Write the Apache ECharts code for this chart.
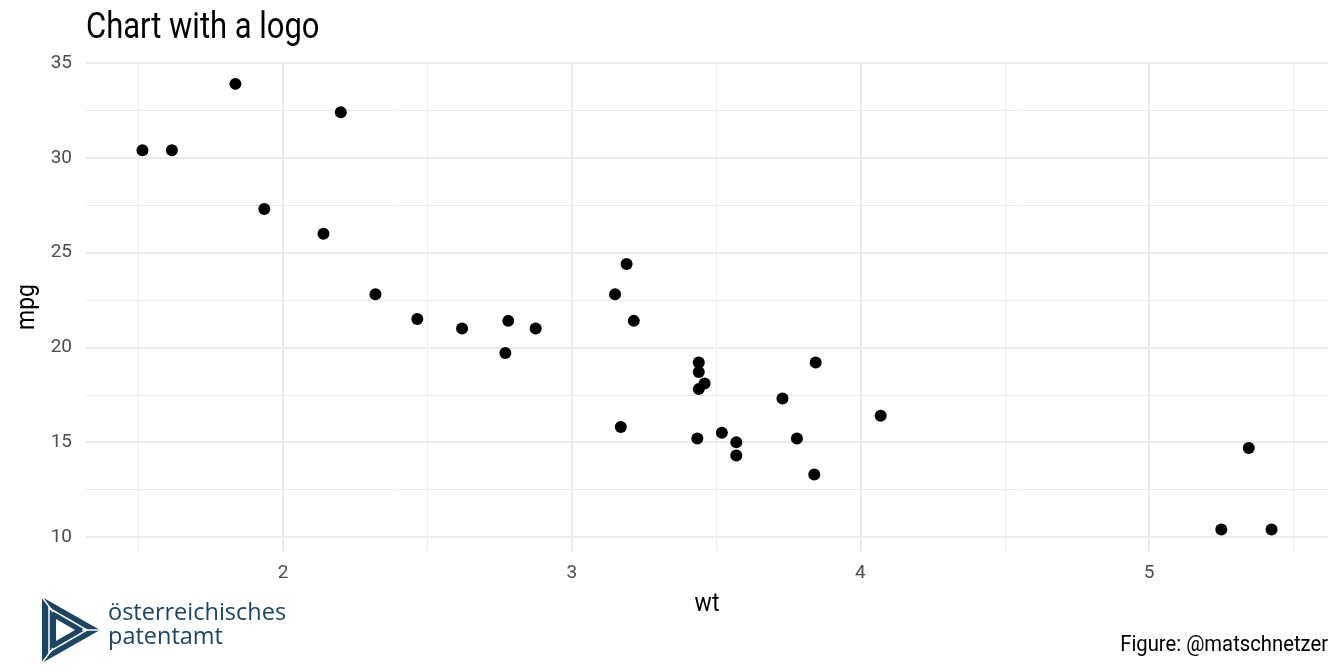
<!DOCTYPE html>
<html><head><meta charset="utf-8">
<script src="https://cdn.jsdelivr.net/npm/echarts@6/dist/echarts.min.js"></script>
<style>html,body{margin:0;padding:0;background:#fff}#c{width:1344px;height:672px}</style>
</head><body><div id="c"></div>
<script>
// mtcars: weight (1000 lbs) and miles per gallon
const wt  = [2.620,2.875,2.320,3.215,3.440,3.460,3.570,3.190,3.150,3.440,3.440,4.070,3.730,3.780,5.250,5.424,5.345,2.200,1.615,1.835,2.465,3.520,3.435,3.840,3.845,1.935,2.140,1.513,3.170,2.770,3.570,2.780];
const mpg = [21.0,21.0,22.8,21.4,18.7,18.1,14.3,24.4,22.8,19.2,17.8,16.4,17.3,15.2,10.4,10.4,14.7,32.4,30.4,33.9,21.5,15.5,15.2,13.3,19.2,27.3,26.0,30.4,15.8,19.7,15.0,21.4];
const xMajor = [2,3,4,5];
const xMinor = [1.5,2.5,3.5,4.5,5.5];
const yMajor = [10,15,20,25,30,35];
const yMinor = [12.5,17.5,22.5,27.5,32.5];
const titleText = 'Chart with a logo';
const captionText = 'Figure: @matschnetzer';
const xTitle = 'wt', yTitle = 'mpg';
const logoLines = ['österreichisches','patentamt'];

const xr = [Math.min(...wt), Math.max(...wt)], yr = [Math.min(...mpg), Math.max(...mpg)];
const xe = (xr[1]-xr[0])*0.05, ye = (yr[1]-yr[0])*0.05;
const points = wt.map((w,i)=>[w, mpg[i]]);

const major = {color:'#ebebeb', width:2, type:'solid'};
const minor = {color:'#ebebeb', width:1, type:'solid'};
const gridLines = [].concat(
  xMinor.map(v=>({xAxis:v, lineStyle:minor})),
  yMinor.map(v=>({yAxis:v, lineStyle:minor})),
  xMajor.map(v=>({xAxis:v, lineStyle:major})),
  yMajor.map(v=>({yAxis:v, lineStyle:major}))
);

const FONT = 'Roboto, "Noto Sans", sans-serif';
const logoC = '#1d4460';
const chart = echarts.init(document.getElementById('c'));
chart.setOption({
  animation:false,
  backgroundColor:'#ffffff',
  grid:{left:86, right:16, top:61.6, bottom:120.3, containLabel:false},
  xAxis:{type:'value', min:xr[0]-xe, max:xr[1]+xe,
    axisLine:{show:false}, axisTick:{show:false}, splitLine:{show:false},
    axisLabel:{customValues:xMajor, color:'#4d4d4d', fontFamily:FONT, fontSize:19, margin:12}},
  yAxis:{type:'value', min:yr[0]-ye, max:yr[1]+ye,
    axisLine:{show:false}, axisTick:{show:false}, splitLine:{show:false},
    axisLabel:{customValues:yMajor, color:'#4d4d4d', fontFamily:FONT, fontSize:19, margin:14, padding:[3,0,0,0]}},
  series:[
    {type:'scatter', data:[], silent:true, z:1,
     markLine:{silent:true, z:1, zlevel:0, symbol:['none','none'], label:{show:false}, animation:false, data:gridLines}},
    {type:'scatter', data:points, symbolSize:12, itemStyle:{color:'#000', opacity:1}, z:10}
  ],
  graphic:[
    {type:'text', x:86, y:29, scaleX:0.86, style:{text:titleText, font:'36px '+FONT, fill:'#000', textAlign:'left', textVerticalAlign:'middle'}},
    {type:'text', x:707, y:605, scaleX:0.92, style:{text:xTitle, font:'25px '+FONT, fill:'#000', textAlign:'center', textVerticalAlign:'middle'}},
    {type:'text', x:28, y:307, rotation:Math.PI/2, scaleX:0.92, style:{text:yTitle, font:'25px '+FONT, fill:'#000', textAlign:'center', textVerticalAlign:'middle'}},
    {type:'text', x:1328, y:645, scaleX:0.9, style:{text:captionText, font:'22.5px '+FONT, fill:'#000', textAlign:'right', textVerticalAlign:'middle'}},
    // logo mark
    {type:'polygon', shape:{points:[[42,597],[42,663],[100,630]]}, style:{fill:logoC}},
    {type:'polygon', shape:{points:[[49,608],[49,652],[87,630]]}, style:{fill:'none', stroke:'#fff', lineWidth:1.5}},
    {type:'polygon', shape:{points:[[56,619],[56,641],[75,630]]}, style:{fill:'#fff'}},
    {type:'line', shape:{x1:42, y1:597, x2:53, y2:612}, style:{stroke:'#fff', lineWidth:1.5}},
    {type:'line', shape:{x1:100, y1:630, x2:82, y2:630}, style:{stroke:'#fff', lineWidth:1.5}},
    {type:'line', shape:{x1:42, y1:663, x2:53, y2:648}, style:{stroke:'#fff', lineWidth:1.5}},
    {type:'text', x:108, y:613, style:{text:logoLines[0], font:'500 23.5px "Open Sans", sans-serif', fill:logoC, textAlign:'left', textVerticalAlign:'middle'}},
    {type:'text', x:108, y:637, style:{text:logoLines[1], font:'500 23.5px "Open Sans", sans-serif', fill:logoC, textAlign:'left', textVerticalAlign:'middle'}}
  ]
});
</script></body></html>
